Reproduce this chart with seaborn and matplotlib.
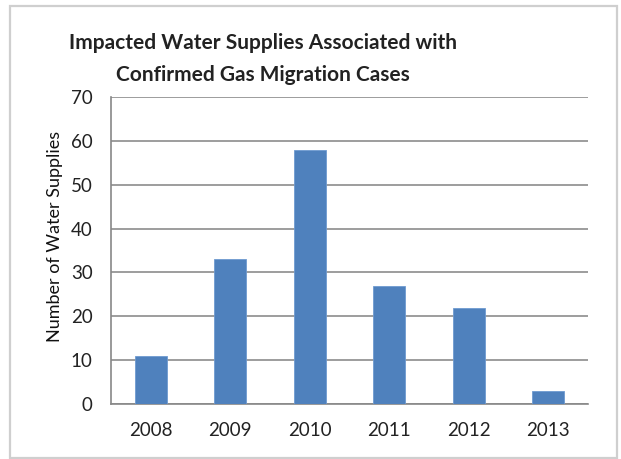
import matplotlib
matplotlib.use("Agg")
import matplotlib.pyplot as plt
import seaborn as sns
import pandas as pd
from matplotlib.patches import Rectangle

years = ["2008", "2009", "2010", "2011", "2012", "2013"]
supplies = [11, 33, 58, 27, 22, 3]
yticks = [0, 10, 20, 30, 40, 50, 60, 70]
title_lines = ["Impacted Water Supplies Associated with", "Confirmed Gas Migration Cases"]

sns.set_theme(style="white")
plt.rcParams['font.family'] = ['Lato', 'DejaVu Sans']

df = pd.DataFrame({"year": years, "n": supplies})

fig = plt.figure(figsize=(6.21, 4.59), dpi=100)
ax = fig.add_axes([0.1787, 0.1198, 0.947 - 0.1787, 0.7887 - 0.1198])

sns.barplot(data=df, x="year", y="n", color="#4F81BD", saturation=1, width=0.4,
            edgecolor="#6F9AD0", linewidth=0.6, ax=ax, zorder=3)

ax.set_ylim(0, 70)
ax.set_xlim(-0.5, len(years) - 0.5)
ax.set_yticks(yticks)
ax.set_yticklabels([str(t) for t in yticks], fontsize=13.5, color="#222222")
ax.tick_params(axis="x", labelsize=13.5, colors="#222222", length=0, pad=13)
ax.tick_params(axis="y", length=5.8, width=1, color="#888888", direction="out", pad=7.5)
ax.set_xticks(range(len(years)))
ax.set_xticklabels(years, fontsize=13.5, color="#222222")
ax.set_xticks([i - 0.5 for i in range(len(years) + 1)], minor=True)
ax.tick_params(axis="x", which="minor", length=7, width=1, color="#888888", direction="out")

ax.grid(axis="y", color="#8C8C8C", linewidth=1.2, zorder=0)
ax.set_axisbelow(True)
for s in ["top", "right"]:
    ax.spines[s].set_visible(False)
for s in ["left", "bottom"]:
    ax.spines[s].set_color("#888888")
    ax.spines[s].set_linewidth(1.2)

ax.set_xlabel("")
ax.set_ylabel("Number of Water Supplies", fontsize=13, color="#111111")
ax.yaxis.set_label_coords(-0.10, 0.547)

fig.text(0.424, 0.906, title_lines[0], ha="center", va="center", fontsize=15,
         fontweight="bold", color="#222222")
fig.text(0.424, 0.837, title_lines[1], ha="center", va="center", fontsize=15,
         fontweight="bold", color="#222222")

fig.patches.append(Rectangle((10 / 621, 1.5 / 459), 607 / 621, 452 / 459, transform=fig.transFigure,
                             fill=False, edgecolor="#CFCFCF", linewidth=1.6))

fig.savefig("out.png", dpi=100)
